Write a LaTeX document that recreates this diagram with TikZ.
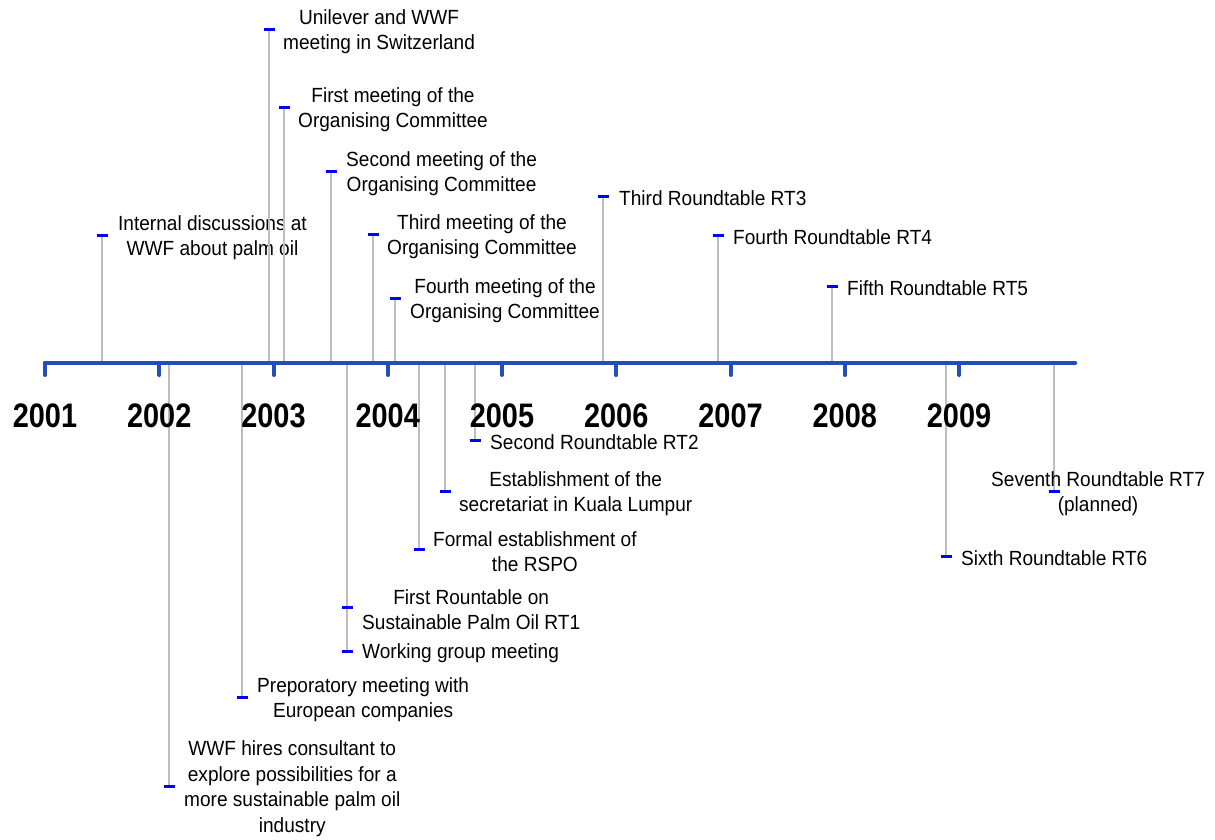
\documentclass[tikz,border=0pt]{standalone}
\usepackage{fontspec}
\setmainfont{Liberation Sans}
\usetikzlibrary{positioning}
\definecolor{axisblue}{RGB}{32,78,186}
\definecolor{tickblue}{RGB}{0,0,255}
\definecolor{stemgray}{RGB}{190,190,190}
% #1 name, #2 stem x, #3 tick y, #4 text offset, #5 text
\newcommand{\tlevent}[5]{%
    \coordinate (b#1) at (#2,363);
    \coordinate (m#1) at (#2,#3);
    \draw[stem] (b#1) -- (m#1);
    \draw[evtick] ([xshift=-5.5pt]m#1) -- ([xshift=5.5pt]m#1);
    \node[evlabel] (ev#1) at (#2+#4,#3+2.5) {#5};
}

\begin{document}
\begin{tikzpicture}[
    x=1pt, y=-1pt,
    axis/.style={draw=axisblue, line width=4.5pt, line cap=round},
    stem/.style={draw=stemgray, line width=1.6pt},
    evtick/.style={draw=tickblue, line width=3pt},
    yearlabel/.style={
        font=\fontsize{34}{34}\selectfont\bfseries,
        inner sep=0pt, xscale=.85, transform shape
    },
    evlabel/.style={
        font=\fontsize{20.5}{25.5}\selectfont,
        align=center, inner sep=0pt, anchor=west,
        xscale=.93, transform shape
    }
]
\useasboundingbox (0,0) rectangle (1215,839);

% above the axis
\tlevent{1}{102}{235}{16}{Internal discussions at\\WWF about palm oil}
\tlevent{2}{269}{29}{14}{Unilever and WWF\\meeting in Switzerland}
\tlevent{3}{284}{107}{14}{First meeting of the\\Organising Committee}
\tlevent{4}{331}{171}{15}{Second meeting of the\\Organising Committee}
\tlevent{5}{373}{234}{14}{Third meeting of the\\Organising Committee}
\tlevent{6}{395}{298}{15}{Fourth meeting of the\\Organising Committee}
\tlevent{7}{603}{196}{16}{Third Roundtable RT3}
\tlevent{8}{718}{235}{15}{Fourth Roundtable RT4}
\tlevent{9}{832}{286}{15}{Fifth Roundtable RT5}
% below the axis
\tlevent{10}{475}{440}{15}{Second Roundtable RT2}
\tlevent{11}{445}{491}{14}{Establishment of the\\secretariat in Kuala Lumpur}
\tlevent{12}{419}{549}{14}{Formal establishment of\\the RSPO}
\tlevent{14}{347}{651}{15}{Working group meeting}
\tlevent{13}{347}{607}{15}{First Rountable on\\Sustainable Palm Oil RT1}
\tlevent{15}{242}{697}{15}{Preporatory meeting with\\European companies}
\tlevent{16}{169}{786}{15}{WWF hires consultant to\\explore possibilities for a\\more sustainable palm oil\\industry}
\tlevent{17}{946}{556}{15}{Sixth Roundtable RT6}
\tlevent{18}{1054}{491}{-63}{Seventh Roundtable RT7\\(planned)}

% time axis
\coordinate (axstart) at (45,363);
\coordinate (axend) at (1075,363);
\draw[axis] (axstart) -- (axend);
\foreach \yr/\tx in {2001/45,2002/159.25,2003/273.5,2004/387.75,2005/502,
                     2006/616.25,2007/730.5,2008/844.75,2009/959}{
    \coordinate (t\yr) at (\tx,363);
    \draw[axis, line width=4pt] (t\yr) -- ++(0,12);
    \node[yearlabel] (y\yr) at (\tx,415.5) {\yr};
}
\end{tikzpicture}
\end{document}
